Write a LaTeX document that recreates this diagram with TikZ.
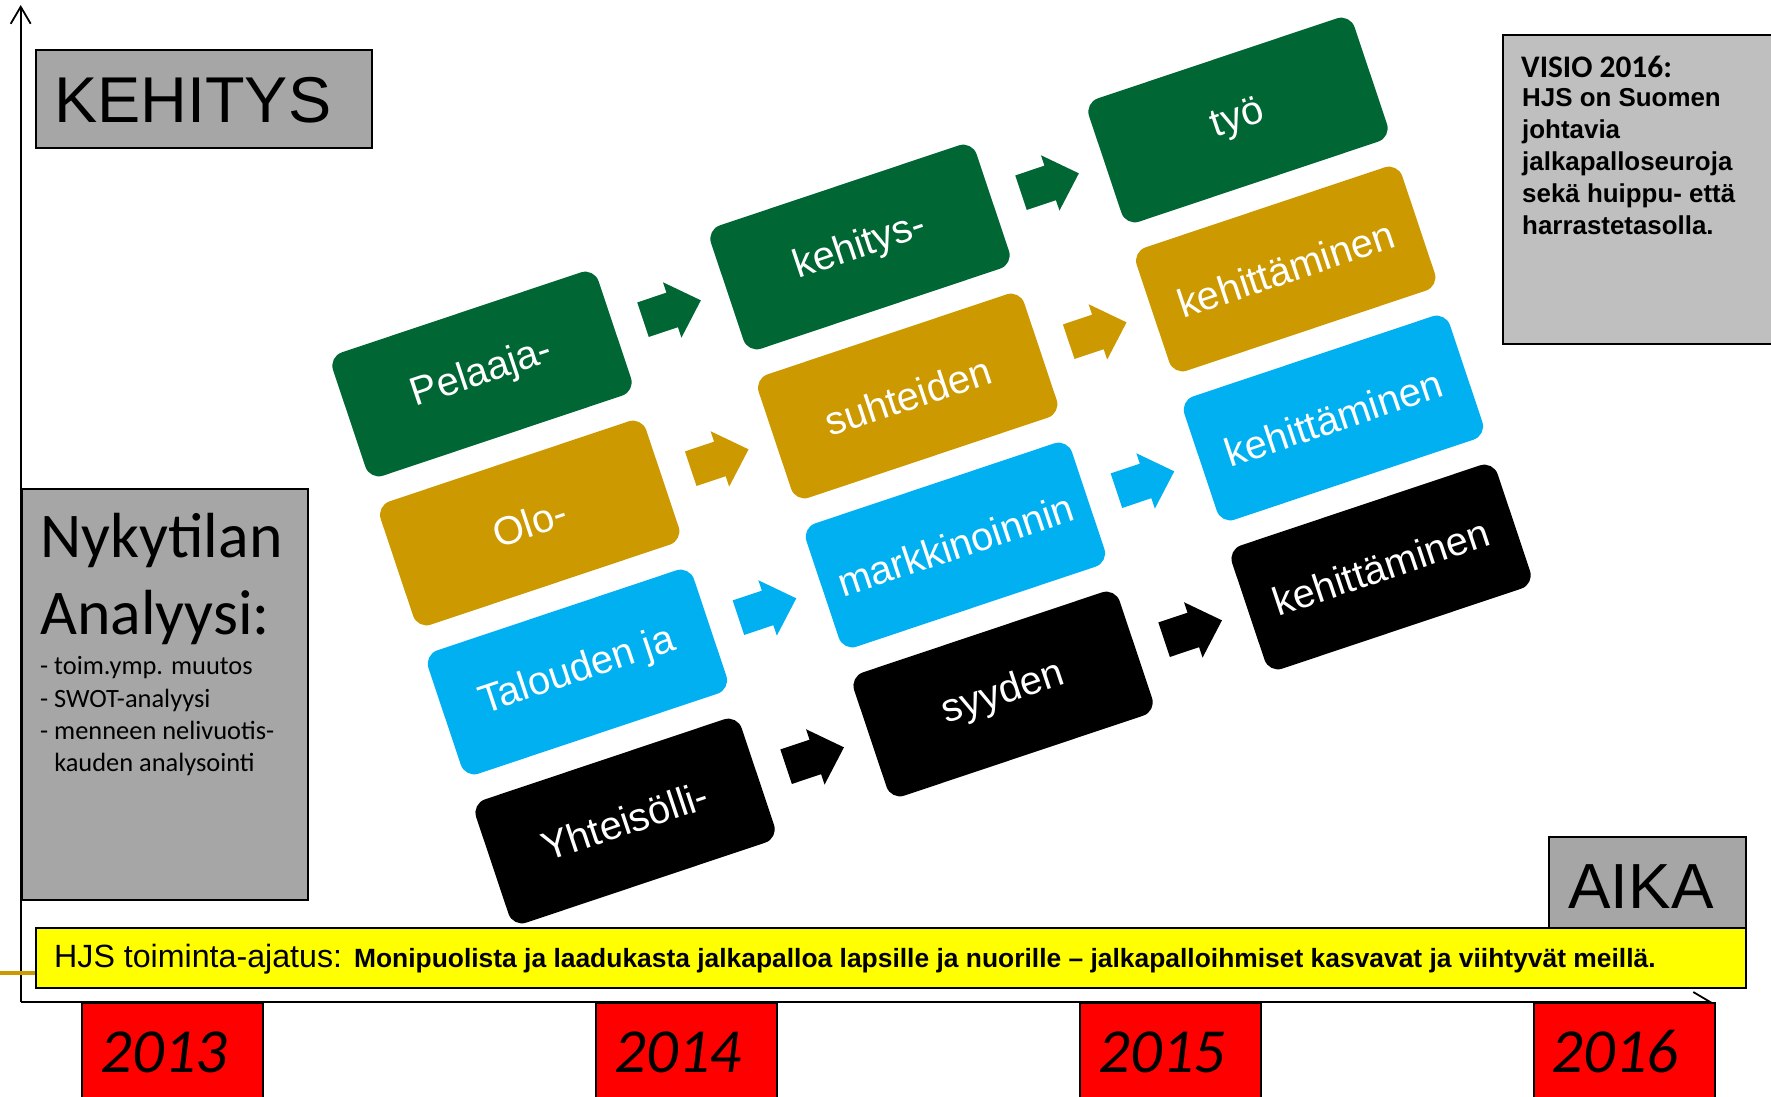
\documentclass[tikz,border=0pt]{standalone}
\usepackage{fontspec}
\setmainfont{Liberation Sans}
\newfontfamily\calibri{Carlito}
\usetikzlibrary{shapes.arrows,arrows.meta}
\definecolor{hgreen}{RGB}{0,102,51}
\definecolor{hgold}{RGB}{204,153,0}
\definecolor{hblue}{RGB}{0,176,240}
\definecolor{grayA}{RGB}{166,166,166}
\definecolor{grayB}{RGB}{191,191,191}
\definecolor{hyellow}{RGB}{255,255,0}
\definecolor{hred}{RGB}{255,0,0}
\newcommand\fsz[2]{\fontsize{#1}{#2}\selectfont}
\begin{document}
\begin{tikzpicture}[x=1bp,y=-1bp,
  tile/.style={rectangle, rounded corners=14bp, minimum width=280bp, minimum height=130bp, rotate=18.5, text=white, font=\fsz{40}{48}, inner sep=0pt},
  blockarrow/.style={single arrow, minimum height=61bp, inner xsep=0pt, inner ysep=18bp, single arrow head extend=11bp, single arrow tip angle=88, rotate=18.5},
  panel/.style={draw=black, line width=1.5bp, anchor=north west, inner sep=0pt},
  yearbox/.style={panel, fill=hred, minimum width=181bp, minimum height=120bp},
  yeartxt/.style={anchor=base, inner sep=0pt, font=\calibri\itshape\fsz{63}{70}},
  lbl/.style={anchor=base west, inner sep=0pt},
  axis/.style={line width=1.8bp, -{Straight Barb[length=17bp,width=20bp]}}
]
\useasboundingbox (0,0) rectangle (1771,1096);
\clip (0,0) rectangle (1771,1096);
% axes
\coordinate (origin) at (20.7,1002);
\coordinate (ytop) at (20.7,5);
\coordinate (xend) at (1712,1002);
\draw[axis] (origin) -- (ytop);
\draw[axis] (origin) -- (xend);
\coordinate (gl1) at (0,973);
\coordinate (gl2) at (60,973);
\draw[hgold, line width=4bp] (gl1) -- (gl2);
% gray panels
\node[panel, fill=grayA, minimum width=336bp, minimum height=98bp] (kehbox) at (35,49) {};
\node[lbl, font=\fsz{65}{70}] (kehtxt) at (54,122) {KEHITYS};
\node[panel, fill=grayA, minimum width=286bp, minimum height=411bp] (nykbox) at (21,488) {};
\node[lbl, font=\calibri\fsz{64}{70}] (nyk1) at (40,557) {Nykytilan};
\node[lbl, font=\calibri\fsz{64}{70}] (nyk2) at (40,634) {Analyysi:};
\node[lbl, font=\calibri\fsz{26.5}{32}] (nyk3) at (40,674) {- toim.ymp. muutos};
\node[lbl, font=\calibri\fsz{26.5}{32}] (nyk4) at (40,707) {- SWOT-analyysi};
\node[lbl, font=\calibri\fsz{26.5}{32}] (nyk5) at (40,739) {- menneen nelivuotis-};
\node[lbl, font=\calibri\fsz{26.5}{32}] (nyk6) at (40,771) {\hphantom{- }kauden analysointi};
\node[panel, fill=grayB, minimum width=300bp, minimum height=309bp] (visbox) at (1502,34) {};
\node[lbl, font=\calibri\bfseries\fsz{31.5}{36}] (vis0) at (1521,77) {VISIO 2016:};
\node[lbl, font=\bfseries\fsz{26}{32}] (vis1) at (1522,106) {HJS on Suomen};
\node[lbl, font=\bfseries\fsz{26}{32}] (vis2) at (1522,138) {johtavia};
\node[lbl, font=\bfseries\fsz{26}{32}] (vis3) at (1522,170) {jalkapalloseuroja};
\node[lbl, font=\bfseries\fsz{26}{32}] (vis4) at (1522,202) {sekä huippu- että};
\node[lbl, font=\bfseries\fsz{26}{32}] (vis5) at (1522,234) {harrastetasolla.};
\node[panel, fill=grayA, minimum width=197bp, minimum height=95bp] (aikabox) at (1548,836) {};
\node[lbl, font=\fsz{64}{70}] (aikatxt) at (1568,908) {AIKA};
% yellow bar
\node[panel, fill=hyellow, line width=2bp, minimum width=1710bp, minimum height=60bp] (bar) at (35,927) {};
\node[lbl, font=\fsz{32.3}{36}] (bartxt) at (54,967) {HJS toiminta-ajatus: {\bfseries\fsz{26.5}{30}Monipuolista ja laadukasta jalkapalloa lapsille ja nuorille – jalkapalloihmiset kasvavat ja viihtyvät meillä.}};
% years
\node[yearbox] (y13) at (81,1002) {};
\node[yearbox] (y14) at (595,1002) {};
\node[yearbox] (y15) at (1079,1002) {};
\node[yearbox] (y16) at (1533,1002) {};
\node[yeartxt] (y13t) at (164,1072) {2013};
\node[yeartxt] (y14t) at (678,1072) {2014};
\node[yeartxt] (y15t) at (1162,1072) {2015};
\node[yeartxt] (y16t) at (1615,1072) {2016};
% tiles and arrows
\foreach \r/\col/\ta/\tb/\tc in {0/hgreen/Pelaaja-/kehitys-/työ, 1/hgold/Olo-/suhteiden/kehittäminen, 2/hblue/Talouden ja/markkinoinnin/kehittäminen, 3/black/Yhteisölli-/syyden/kehittäminen}{
  \pgfmathsetmacro\bx{482+\r*47.7}
  \pgfmathsetmacro\by{374+\r*149}
  \node[tile, fill=\col] (t\r a) at (\bx,\by) {\ta};
  \node[tile, fill=\col] (t\r b) at (\bx+378,\by-127) {\tb};
  \node[tile, fill=\col] (t\r c) at (\bx+756,\by-254) {\tc};
  \node[blockarrow, fill=\col] (ar\r a) at (\bx+181,\by-61) {};
  \node[blockarrow, fill=\col] (ar\r b) at (\bx+559,\by-188) {};
}
\end{tikzpicture}
\end{document}
